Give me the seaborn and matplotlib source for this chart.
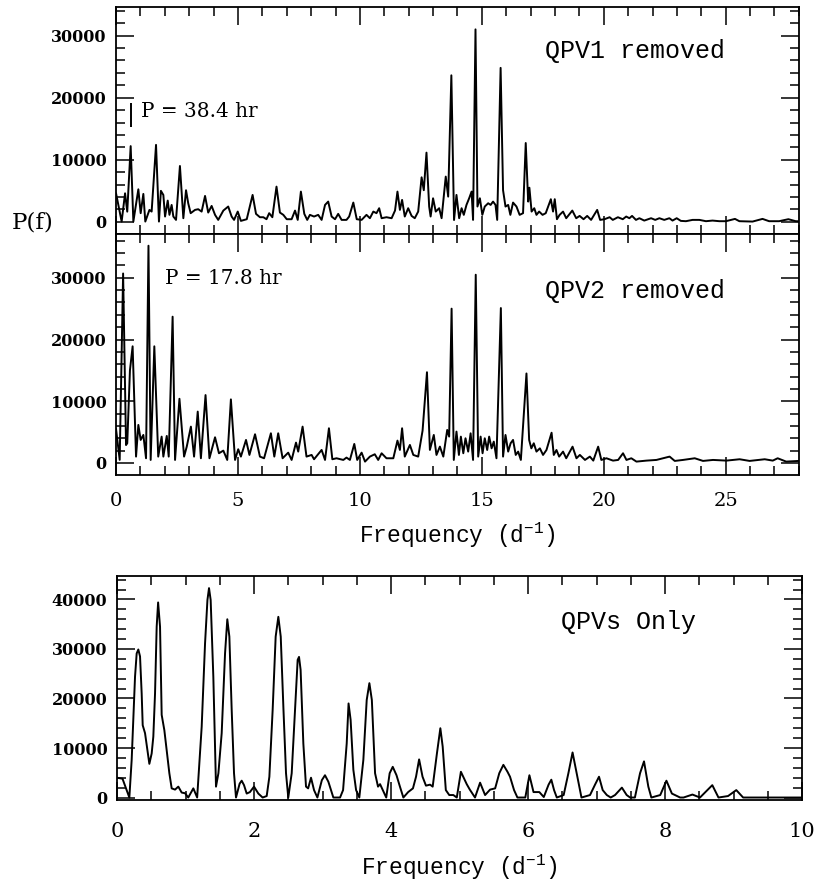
import matplotlib
matplotlib.use("Agg")
import matplotlib.pyplot as plt
import seaborn as sns
import pandas as pd
from matplotlib.ticker import MultipleLocator, FuncFormatter

# ---------------- data ----------------
qpv1_freq = [0.0, 0.23, 0.37, 0.46, 0.60, 0.71, 0.915, 1.01, 1.12, 1.20,
             1.37, 1.46, 1.64, 1.76, 1.84, 1.94, 2.01, 2.12, 2.19, 2.28,
             2.35, 2.46, 2.62, 2.76, 2.87, 2.96, 3.06, 3.24, 3.37, 3.51,
             3.65, 3.78, 3.92, 4.06, 4.19, 4.40, 4.60, 4.74, 4.84, 4.99,
             5.12, 5.36, 5.60, 5.74, 5.90, 6.04, 6.17, 6.28, 6.41, 6.58,
             6.72, 6.86, 7.00, 7.20, 7.34, 7.45, 7.58, 7.72, 7.84, 7.95,
             8.12, 8.29, 8.43, 8.57, 8.70, 8.84, 8.98, 9.11, 9.25, 9.45,
             9.56, 9.73, 9.87, 10.07, 10.27, 10.41, 10.55, 10.68, 10.79, 10.89,
             11.09, 11.30, 11.44, 11.54, 11.64, 11.73, 11.84, 11.98, 12.12, 12.25,
             12.39, 12.53, 12.62, 12.73, 12.84, 12.90, 13.00, 13.11, 13.25, 13.35,
             13.52, 13.62, 13.75, 13.86, 13.96, 14.07, 14.17, 14.26, 14.37, 14.48,
             14.58, 14.64, 14.74, 14.82, 14.92, 15.02, 15.12, 15.26, 15.36, 15.46,
             15.56, 15.63, 15.77, 15.87, 15.97, 16.08, 16.17, 16.28, 16.42, 16.55,
             16.69, 16.80, 16.90, 16.95, 17.04, 17.15, 17.24, 17.35, 17.49, 17.62,
             17.83, 17.92, 17.99, 18.08, 18.19, 18.33, 18.46, 18.71, 18.87, 19.01,
             19.17, 19.32, 19.48, 19.73, 19.85, 20.03, 20.24, 20.37, 20.58, 20.78,
             20.92, 21.05, 21.16, 21.32, 21.46, 21.66, 21.94, 22.11, 22.28, 22.48,
             22.69, 22.82, 22.99, 23.16, 23.37, 23.64, 23.92, 24.19, 24.46, 24.74,
             25.01, 25.38, 25.56, 26.10, 26.51, 26.78, 27.19, 27.57, 27.87, 28.0]
qpv1_power = [4600, 50, 4600, 1650, 12200, 50, 5250, 1400, 4500, 50,
              1930, 1660, 12400, 50, 5000, 4340, 860, 3430, 1130, 2730,
              860, 320, 9000, 590, 5100, 3000, 1400, 1930, 2040, 1660,
              4180, 1500, 2570, 1130, 320, 1820, 2470, 860, 320, 1660,
              160, 430, 4340, 1290, 750, 750, 430, 1400, 750, 5680,
              1500, 1130, 430, 430, 1820, 320, 4880, 1290, 320, 1130,
              860, 1130, 320, 2730, 3270, 860, 430, 1290, 320, 320,
              860, 3110, 430, 320, 1130, 590, 1660, 1400, 2200, 590,
              750, 590, 1820, 4880, 1930, 3540, 860, 2200, 960, 590,
              1660, 7180, 5100, 11150, 2470, 860, 3800, 1660, 2200, 590,
              7290, 4070, 23600, 300, 4340, 590, 2200, 1130, 2730, 3800,
              4880, 320, 31000, 2470, 3800, 1130, 2470, 3000, 2730, 3270,
              2730, 320, 24800, 5100, 2470, 2730, 1130, 3110, 2470, 1130,
              1400, 12700, 3270, 5500, 1660, 2200, 1130, 1660, 1130, 1400,
              3650, 1660, 3650, 430, 1130, 1660, 590, 1820, 590, 960,
              430, 960, 320, 1930, 320, 430, 750, 320, 750, 430,
              860, 590, 960, 320, 590, 210, 590, 320, 590, 320,
              590, 210, 590, 160, 110, 320, 320, 110, 210, 110,
              110, 480, 110, 50, 480, 110, 110, 430, 110, 100]

qpv2_freq = [0.0, 0.15, 0.29, 0.41, 0.46, 0.57, 0.68, 0.82, 0.915, 1.01,
             1.12, 1.23, 1.33, 1.42, 1.57, 1.73, 1.87, 1.94, 2.08, 2.16,
             2.32, 2.42, 2.60, 2.79, 2.90, 3.07, 3.20, 3.35, 3.48, 3.67,
             3.83, 4.06, 4.22, 4.40, 4.56, 4.71, 4.88, 5.01, 5.12, 5.33,
             5.47, 5.70, 5.90, 6.07, 6.35, 6.49, 6.65, 6.83, 7.06, 7.20,
             7.38, 7.47, 7.65, 7.81, 8.02, 8.12, 8.43, 8.57, 8.73, 8.87,
             9.04, 9.32, 9.45, 9.59, 9.77, 9.89, 10.07, 10.21, 10.41, 10.61,
             10.75, 10.89, 11.09, 11.37, 11.54, 11.64, 11.73, 11.84, 12.05, 12.19,
             12.39, 12.57, 12.75, 12.87, 13.03, 13.14, 13.28, 13.42, 13.58, 13.66,
             13.76, 13.85, 13.96, 14.06, 14.14, 14.24, 14.33, 14.44, 14.54, 14.64,
             14.75, 14.85, 14.95, 15.03, 15.12, 15.22, 15.30, 15.40, 15.49, 15.60,
             15.78, 15.87, 15.97, 16.08, 16.18, 16.28, 16.39, 16.49, 16.60, 16.83,
             16.94, 17.03, 17.13, 17.24, 17.38, 17.51, 17.65, 17.86, 17.95, 18.06,
             18.17, 18.33, 18.46, 18.72, 18.88, 19.02, 19.23, 19.43, 19.57, 19.77,
             19.90, 20.11, 20.38, 20.59, 20.79, 20.93, 21.13, 21.34, 21.75, 22.16,
             22.70, 22.91, 23.25, 23.73, 24.07, 24.48, 25.03, 25.57, 25.98, 26.60,
             26.93, 27.13, 27.48, 28.0]
qpv2_power = [5500, 500, 30700, 2900, 3190, 15000, 18900, 1030, 6160, 3730,
              4540, 760, 35200, 490, 18900, 1030, 4270, 1030, 4380, 1030,
              23700, 490, 10400, 1030, 2650, 5890, 1030, 8320, 760, 11000,
              760, 4160, 1570, 2000, 490, 10300, 490, 2220, 1030, 3730,
              1300, 4650, 1030, 760, 4810, 1030, 4810, 760, 1670, 490,
              3300, 1840, 5890, 1030, 1300, 600, 2110, 490, 5620, 600,
              760, 490, 870, 490, 3080, 490, 1670, 220, 1030, 1410,
              490, 1570, 760, 760, 3620, 2110, 5620, 1030, 2920, 1300,
              1030, 5240, 14700, 2110, 4540, 1300, 2650, 1030, 5350, 4270,
              25000, 490, 5080, 1300, 4270, 1570, 4000, 1840, 4800, 490,
              30500, 1030, 4270, 1570, 4000, 2100, 4270, 2370, 3460, 760,
              25100, 1030, 4540, 1840, 3190, 3730, 1300, 1840, 490, 14500,
              3730, 2370, 3190, 1840, 2370, 1300, 2100, 4900, 1300, 2100,
              1030, 1840, 760, 2640, 760, 1300, 490, 1030, 380, 2640,
              490, 760, 380, 490, 1570, 490, 760, 220, 380, 490,
              1030, 330, 490, 760, 330, 490, 380, 600, 330, 600,
              380, 760, 220, 330]

qpvs_freq = [0.0, 0.08, 0.18, 0.214, 0.263, 0.287, 0.311, 0.336, 0.36, 0.375,
             0.409, 0.443, 0.472, 0.506, 0.53, 0.555, 0.579, 0.60, 0.628, 0.652,
             0.691, 0.725, 0.764, 0.798, 0.847, 0.895, 0.944, 0.993, 1.04, 1.114,
             1.17, 1.236, 1.285, 1.32, 1.343, 1.367, 1.406, 1.445, 1.48, 1.528,
             1.577, 1.61, 1.64, 1.674, 1.708, 1.737, 1.79, 1.82, 1.854, 1.893,
             1.94, 2.0, 2.063, 2.126, 2.185, 2.224, 2.272, 2.316, 2.355, 2.39,
             2.43, 2.467, 2.50, 2.55, 2.598, 2.637, 2.657, 2.68, 2.72, 2.759,
             2.79, 2.832, 2.876, 2.925, 2.99, 3.036, 3.085, 3.158, 3.256, 3.30,
             3.353, 3.38, 3.41, 3.45, 3.49, 3.537, 3.596, 3.645, 3.684, 3.72,
             3.767, 3.81, 3.84, 3.88, 3.93, 3.98, 4.025, 4.08, 4.13, 4.18,
             4.25, 4.32, 4.365, 4.41, 4.46, 4.51, 4.57, 4.608, 4.67, 4.72,
             4.754, 4.80, 4.85, 4.91, 4.96, 5.02, 5.105, 5.15, 5.226, 5.30,
             5.373, 5.446, 5.52, 5.58, 5.64, 5.70, 5.737, 5.796, 5.845, 5.96,
             6.02, 6.08, 6.165, 6.23, 6.30, 6.34, 6.38, 6.42, 6.52, 6.589,
             6.65, 6.71, 6.78, 6.905, 6.978, 7.036, 7.09, 7.15, 7.207, 7.27,
             7.37, 7.44, 7.49, 7.56, 7.635, 7.693, 7.756, 7.80, 7.93, 8.02,
             8.10, 8.22, 8.27, 8.40, 8.51, 8.69, 8.78, 8.92, 9.04, 9.14,
             9.29, 9.49, 9.73, 10.0]
qpvs_power = [4000, 3800, 0, 7600, 24400, 29100, 29900, 28500, 21000, 14600,
              13000, 9600, 6800, 8900, 12300, 21000, 34500, 39400, 34500, 16700,
              13600, 9600, 4900, 1850, 1600, 2200, 1000, 870, 0, 1850,
              0, 14300, 31100, 39900, 42300, 39900, 24400, 2200, 4900, 13000,
              29100, 36000, 32500, 17700, 4900, 0, 2800, 3400, 2500, 800,
              1100, 2200, 800, 0, 300, 4200, 17700, 32500, 36500, 32500,
              17700, 4900, 0, 4900, 17700, 27800, 28400, 25800, 10900, 2200,
              1850, 4000, 1500, 0, 3500, 4500, 3200, 0, 0, 1500,
              10900, 19000, 15700, 5600, 1500, 0, 7600, 19700, 23100, 19700,
              4900, 2200, 2700, 1500, 0, 4900, 6200, 4500, 2200, 0,
              1100, 1850, 4200, 7700, 4200, 2400, 2600, 2200, 8900, 14000,
              10300, 1500, 500, 500, 0, 5200, 2700, 1600, 0, 3000,
              500, 1600, 1850, 4900, 6600, 5200, 4200, 1500, 0, 0,
              4500, 1100, 1100, 100, 2600, 3600, 1500, 0, 500, 4900,
              9100, 4900, 0, 500, 2600, 4200, 1500, 500, 0, 500,
              2000, 500, 0, 0, 4900, 7300, 2200, 0, 500, 3400,
              800, 0, 0, 600, 0, 2500, 0, 300, 1500, 0,
              0, 0, 0, 0]

panel_notes = ["QPV1 removed", "QPV2 removed", "QPVs Only"]
period_notes = ["P = 38.4 hr", "P = 17.8 hr"]
marker_freq = 24.0 / 38.4          # 38.4 hr period marker
marker_span = [15200, 19100]
x_label = r"Frequency (d$^{\mathregular{-1}}$)"
y_label = "P(f)"

# ---------------- style ----------------
sns.set_theme(style="ticks")
plt.rcParams["font.family"] = ["DejaVu Serif"]
plt.rcParams["mathtext.default"] = "regular"

MONO = "Liberation Mono"
SERIF = "DejaVu Serif"

fig = plt.figure(figsize=(8.16, 8.88), dpi=100)
ax1 = fig.add_axes([0.1422, 0.7365, 0.8368, 0.2556])
ax2 = fig.add_axes([0.1422, 0.4651, 0.8368, 0.2714])
ax3 = fig.add_axes([0.1434, 0.0991, 0.8395, 0.2523])


def draw(ax, freq, power):
    df = pd.DataFrame({"freq": freq, "power": power})
    sns.lineplot(data=df, x="freq", y="power", ax=ax, color="black",
                 linewidth=1.4, sort=False, estimator=None)
    ax.set_xlabel("")
    ax.set_ylabel("")


def style(ax, xlim, ylim, xmaj, xmin, xlab_size, xlab_pad, show_x=True):
    ax.set_xlim(*xlim)
    ax.set_ylim(*ylim)
    ax.xaxis.set_major_locator(MultipleLocator(xmaj))
    ax.xaxis.set_minor_locator(MultipleLocator(xmin))
    ax.yaxis.set_major_locator(MultipleLocator(10000))
    ax.yaxis.set_minor_locator(MultipleLocator(2000))
    ax.yaxis.set_major_formatter(FuncFormatter(lambda v, p: f"{int(round(v))}"))
    ax.xaxis.set_major_formatter(FuncFormatter(lambda v, p: f"{v:g}"))
    ax.tick_params(which="both", direction="in", top=True, right=True,
                   width=1.1, color="black")
    ax.tick_params(which="major", length=13)
    ax.tick_params(which="minor", length=6.5)
    ax.tick_params(axis="y", labelsize=11.5, pad=7, labelcolor="black")
    ax.tick_params(axis="x", labelsize=xlab_size, pad=xlab_pad,
                   labelcolor="black", labelbottom=show_x)
    for lab in ax.get_yticklabels():
        lab.set_family(SERIF)
        lab.set_fontweight("bold")
    for lab in ax.get_xticklabels():
        lab.set_family(SERIF)
    for s in ax.spines.values():
        s.set_visible(True)
        s.set_linewidth(1.3)
        s.set_color("black")
    ax.set_facecolor("white")


draw(ax1, qpv1_freq, qpv1_power)
draw(ax2, qpv2_freq, qpv2_power)
draw(ax3, qpvs_freq, qpvs_power)

style(ax1, (0, 28), (-1950, 34600), 5, 1, 14, 12, show_x=False)
style(ax2, (0, 28), (-1950, 37100), 5, 1, 14, 12)
style(ax3, (0, 10), (-500, 44750), 2, 0.5, 15, 16)

# annotations
note_kw = dict(family=MONO, fontsize=18, color="black")
ax1.text(17.6, 26370, panel_notes[0], **note_kw)
ax2.text(17.6, 26740, panel_notes[1], **note_kw)
ax3.text(6.48, 34040, panel_notes[2], **note_kw)
ax1.text(1.02, 16880, period_notes[0], family=SERIF, fontsize=14.4, color="black")
ax2.text(2.0, 29000, period_notes[1], family=SERIF, fontsize=14.4, color="black")
ax1.vlines(marker_freq, marker_span[0], marker_span[1], color="black", linewidth=1.4)

ax2.set_xlabel(x_label, family=MONO, fontsize=16.5, labelpad=8, color="black")
ax3.set_xlabel(x_label, family=MONO, fontsize=16.5, labelpad=8, color="black")
fig.text(0.040, 0.75, y_label, family=SERIF, fontsize=16.5, ha="center",
         va="center", color="black")

fig.savefig("out.png", dpi=100, facecolor="white")
